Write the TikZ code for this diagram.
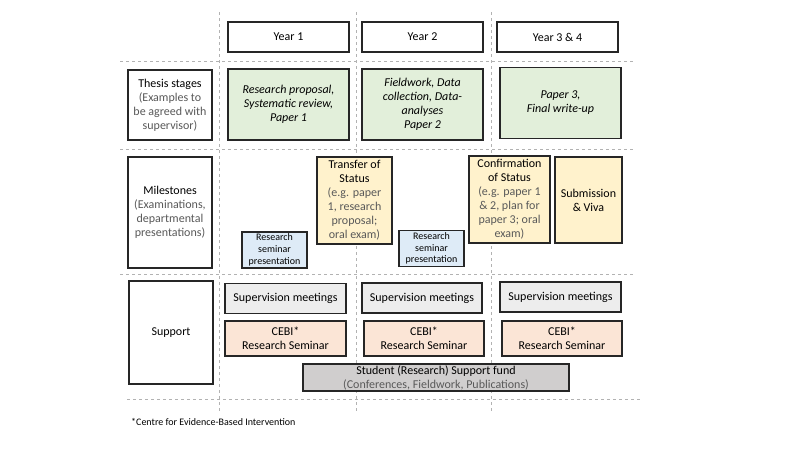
\documentclass[tikz,border=0pt]{standalone}
\usepackage{fontspec}
\setmainfont{Carlito}
\usepackage{tikz}
\usetikzlibrary{positioning}

\definecolor{stagegreen}{HTML}{E2EFDA}
\definecolor{milestoneyellow}{HTML}{FFF2CC}
\definecolor{seminarblue}{HTML}{DEEBF7}
\definecolor{meetinggrey}{HTML}{EDEDED}
\definecolor{cebipeach}{HTML}{FBE5D6}
\definecolor{fundgrey}{HTML}{D0CECE}
\definecolor{notegrey}{HTML}{595959}

\begin{document}
\begin{tikzpicture}
  [x=1pt,y=-1pt,
   font=\fontsize{12}{14}\selectfont,
   box/.style={rectangle,draw=black!85,line width=1.2pt,inner sep=1pt,align=center},
   yearbox/.style={box,fill=white,minimum width=121,minimum height=30},
   rowhead/.style={box,fill=white,minimum width=84},
   stage/.style={box,fill=stagegreen,minimum width=121,minimum height=71,font=\fontsize{12}{14}\selectfont\itshape},
   milestone/.style={box,fill=milestoneyellow,minimum height=87},
   seminar/.style={box,fill=seminarblue,minimum width=65,minimum height=36,font=\fontsize{10}{11.7}\selectfont},
   meeting/.style={box,fill=meetinggrey,minimum width=121,minimum height=30},
   cebi/.style={box,fill=cebipeach,minimum width=120,minimum height=35},
   fund/.style={box,fill=fundgrey,minimum width=266,minimum height=27},
   grid line/.style={black!30,dashed,line width=0.7pt}]
  \useasboundingbox (0,0) rectangle (800,450);
  % grid
  \foreach \y in {61,149,274} \draw[grid line] (120,\y) -- (633,\y);
  \draw[grid line] (127,399) -- (640,399);
  \foreach \x in {219,356,491} \draw[grid line] (\x,12) -- (\x,412);
  % years
  \node (Y1) [yearbox] at (288.5,37) {Year 1};
  \node (Y2) [yearbox] at (422.5,37) {Year 2};
  \node (Y3) [yearbox] at (557.5,37) {Year 3 \& 4};
  % thesis stages
  \node (H1) [rowhead,minimum height=70] at (170,105)
    {Thesis stages\\{\color{notegrey}(Examples to}\\{\color{notegrey}be agreed with}\\{\color{notegrey}supervisor)}};
  \node (G1) [stage] at (288.5,104.5) {Research proposal,\\Systematic review,\\Paper 1};
  \node (G2) [stage] at (422.5,104.5) {Fieldwork, Data\\collection, Data-\\analyses\\Paper 2};
  \node (G3) [stage] at (560.5,103) {Paper 3,\\Final write-up};
  % milestones
  \node (H2) [rowhead,minimum height=111] at (170,212.5)
    {Milestones\\{\color{notegrey}(Examinations,}\\{\color{notegrey}departmental}\\{\color{notegrey}presentations)}};
  \node (RS1) [seminar] at (274.5,250) {Research\\seminar\\presentation};
  \node (TS) [milestone,minimum width=75] at (354.5,200.5)
    {Transfer of\\Status\\{\color{notegrey}(e.g. paper}\\{\color{notegrey}1, research}\\{\color{notegrey}proposal;}\\{\color{notegrey}oral exam)}};
  \node (RS2) [seminar] at (431.5,248.5) {Research\\seminar\\presentation};
  \node (CS) [milestone,minimum width=81] at (509.5,199.5)
    {Confirmation\\of Status\\{\color{notegrey}(e.g. paper 1}\\{\color{notegrey}\& 2, plan for}\\{\color{notegrey}paper 3; oral}\\{\color{notegrey}exam)}};
  \node (SV) [milestone,minimum width=67,minimum height=86] at (588.5,200) {Submission\\\& Viva};
  % support
  \node (H3) [rowhead,minimum height=103] at (171,332.5) {Support};
  \node (M1) [meeting] at (285.5,298.5) {Supervision meetings};
  \node (M2) [meeting,minimum width=120] at (422,298) {Supervision meetings};
  \node (M3) [meeting] at (560.5,297) {Supervision meetings};
  \node (R1) [cebi,minimum width=121] at (285.5,338.5) {CEBI*\\Research Seminar};
  \node (R2) [cebi] at (424,338.5) {CEBI*\\Research Seminar};
  \node (R3) [cebi] at (562,338.5) {CEBI*\\Research Seminar};
  \node (SF) [fund] at (436,377.5)
    {Student (Research) Support fund\\{\color{notegrey}(Conferences, Fieldwork, Publications)}};
  % footnote
  \node (FN) [anchor=west,inner sep=0pt,font=\fontsize{10}{11}\selectfont] at (131,422)
    {*Centre for Evidence-Based Intervention};
\end{tikzpicture}
\end{document}
